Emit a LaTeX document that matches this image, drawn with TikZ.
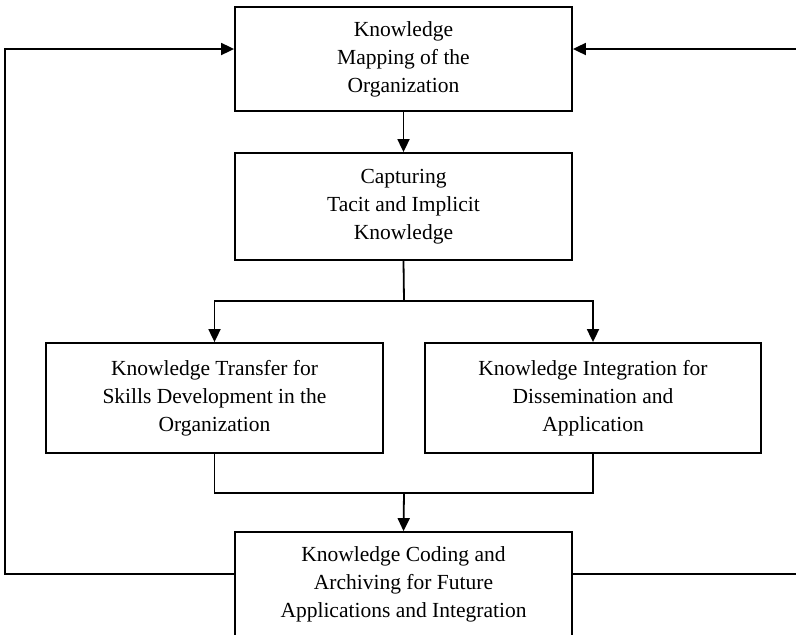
\documentclass[tikz,border=0pt]{standalone}
\usepackage{fontspec}
\setmainfont{Liberation Serif}
\usetikzlibrary{arrows.meta}
\begin{document}
\begin{tikzpicture}[x=1pt,y=-1pt,
  box/.style={draw,line width=1.8pt,align=center,inner sep=0pt,
    font=\fontsize{21.5}{28}\selectfont},
  link/.style={line width=1.8pt},
  arr/.style={link,-{Triangle[width=12pt,length=13pt]}}]
\useasboundingbox (0,0) rectangle (796,635);
\begin{scope}
\clip (0,0) rectangle (796,635);
\node[box,minimum width=337pt,minimum height=104pt] (map) at (403.5,59)
  {Knowledge\\Mapping of the\\Organization};
\node[box,minimum width=337pt,minimum height=107pt] (cap) at (403.5,206.5)
  {Capturing\\Tacit and Implicit\\Knowledge};
\node[box,minimum width=337pt,minimum height=110pt] (trans) at (214.5,398)
  {Knowledge Transfer for\\Skills Development in the\\Organization};
\node[box,minimum width=336pt,minimum height=110pt] (integ) at (593,398)
  {Knowledge Integration for\\Dissemination and\\Application};
\node[box,minimum width=337pt,minimum height=104pt] (code) at (403.5,584)
  {Knowledge Coding and\\Archiving for Future\\Applications and Integration};

\coordinate (split) at (404,301);
\coordinate (join) at (404,493);
\coordinate (lowL) at (5,574);
\coordinate (lowR) at (800,574);
\coordinate (topL) at (5,49);
\coordinate (topR) at (800,49);

\draw[arr] (map.south) -- (cap.north);
\draw[link] (cap.south) -- (split);
\draw[arr] (split) -| (trans.north);
\draw[arr] (split) -| (integ.north);
\draw[link] (trans.south) |- (join) -| (integ.south);
\draw[arr] (join) -- (code.north);
\draw[arr] (code.west |- lowL) -- (lowL) |- (map.west |- topL);
\draw[link] (code.east |- lowR) -- (lowR);
\draw[arr] (topR) -- (map.east |- topR);
\end{scope}
\end{tikzpicture}
\end{document}
